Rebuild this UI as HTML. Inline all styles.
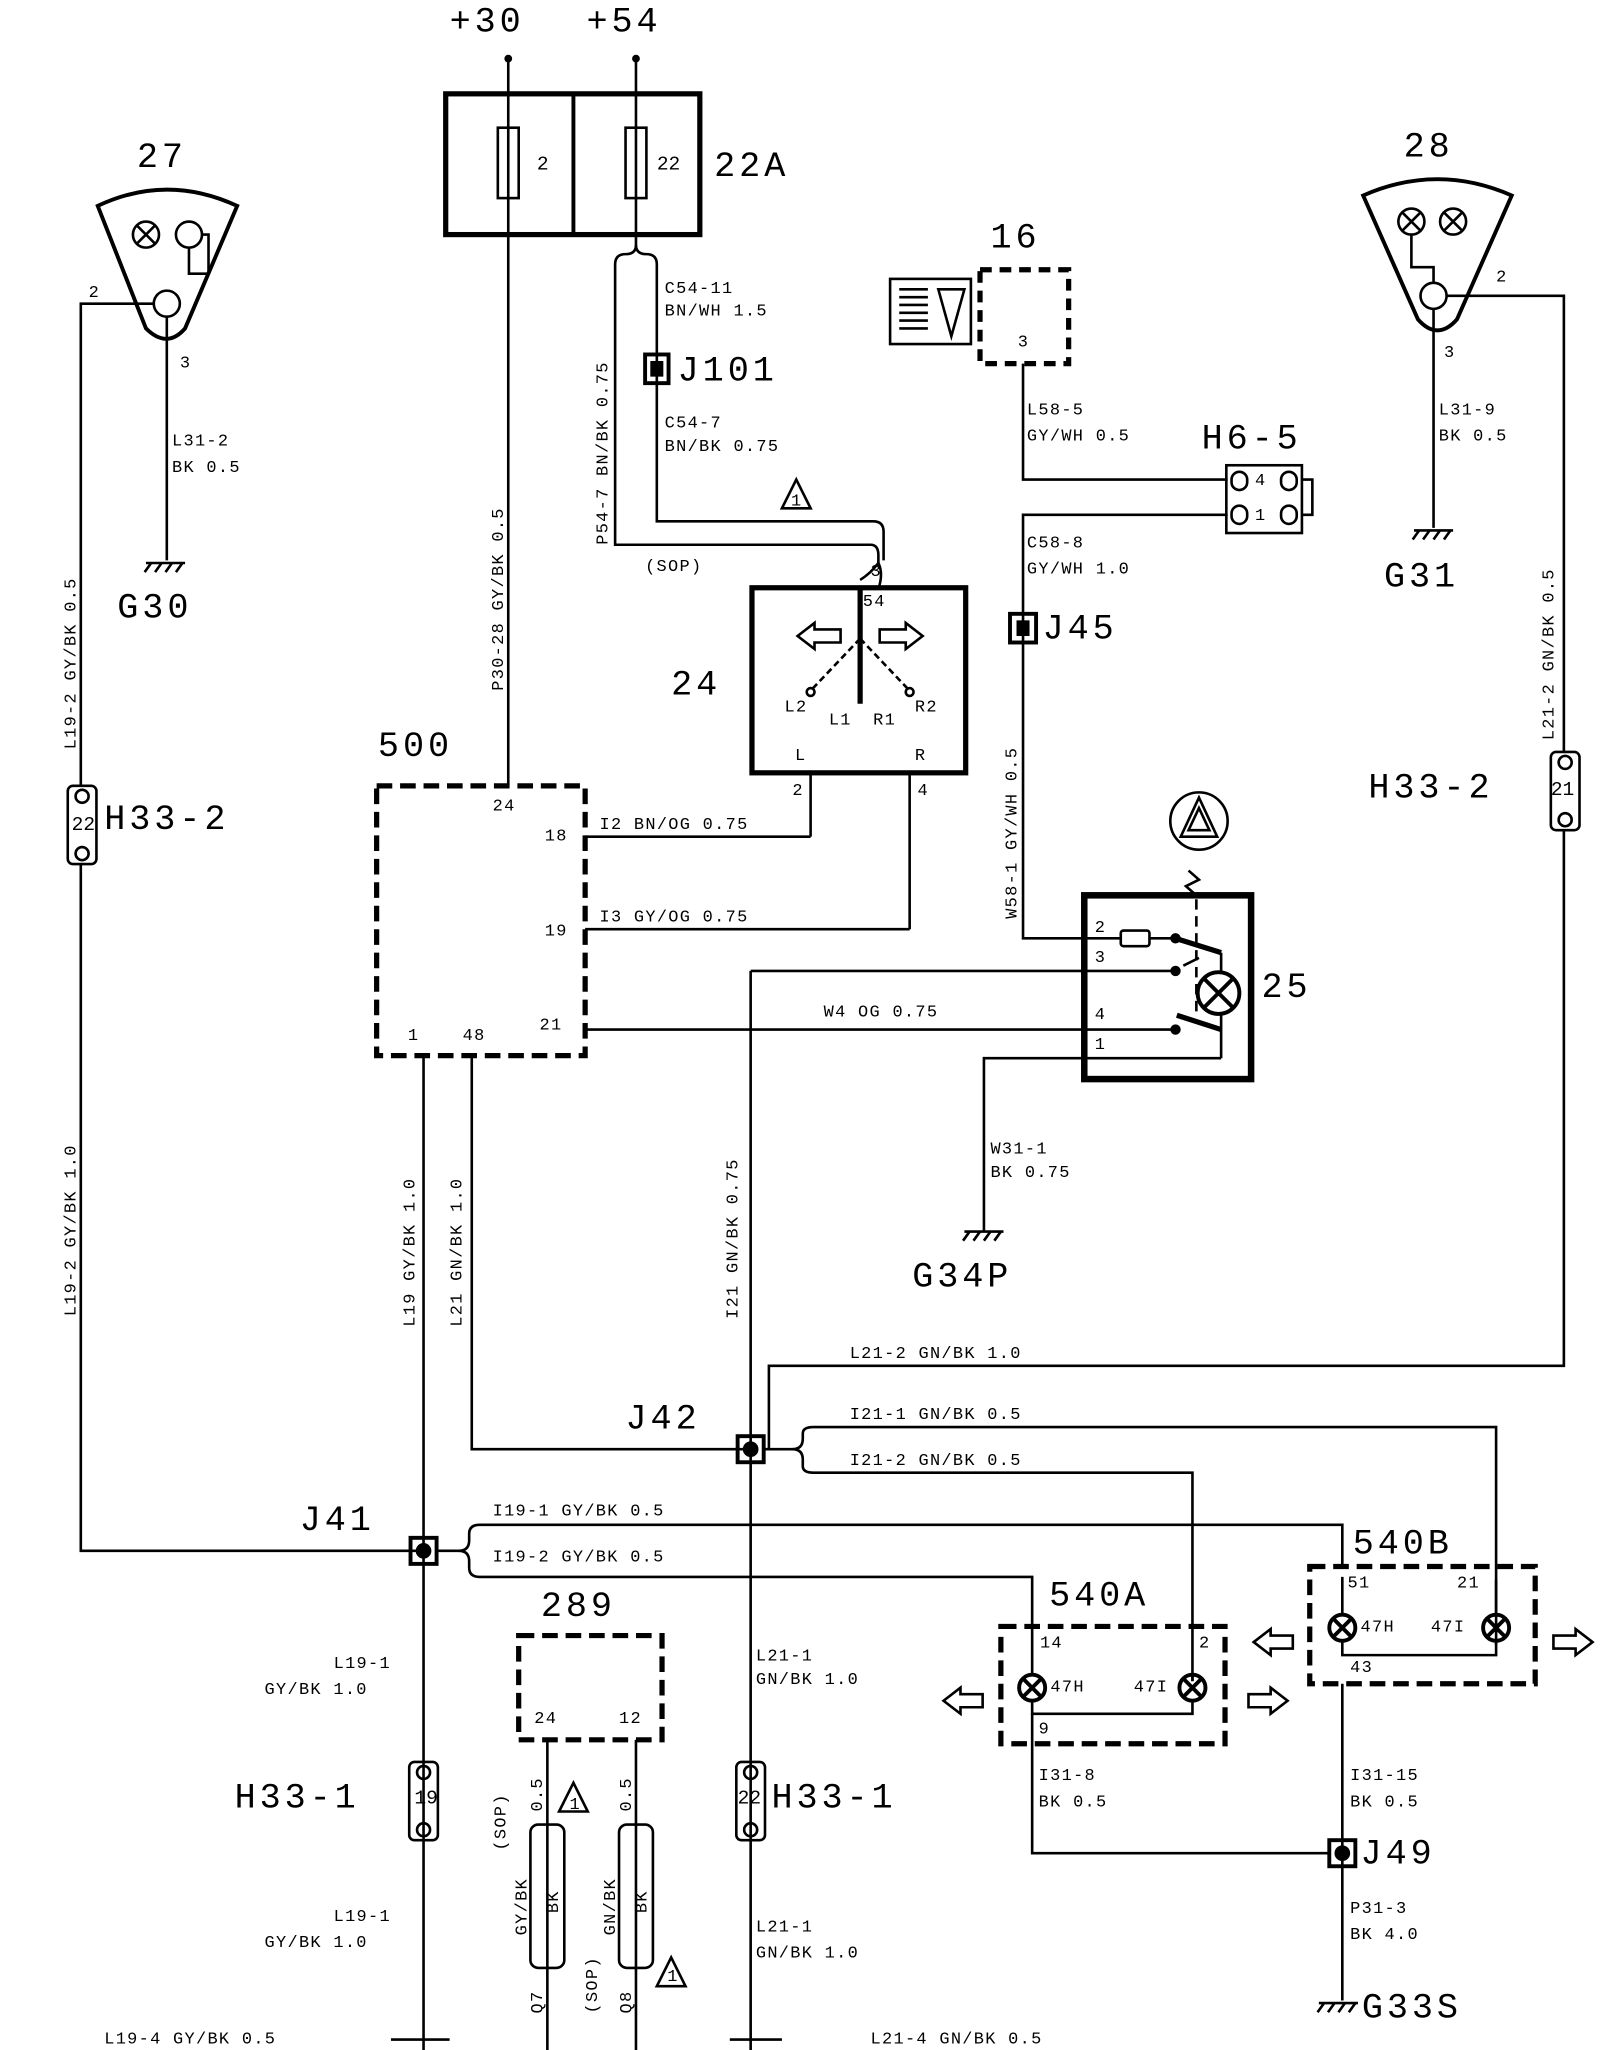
<!DOCTYPE html>
<html><head><meta charset="utf-8"><style>
html,body{margin:0;padding:0;background:#fff;width:1616px;height:2050px;overflow:hidden}
svg{display:block}
text{font-family:"Liberation Mono",monospace;fill:#000}
.s{font-size:13px;letter-spacing:1px}
.m{font-size:15px}
.b{font-size:27px;letter-spacing:3px}
</style></head><body>
<svg width="1616" height="2050" viewBox="0 0 1240 1573" preserveAspectRatio="none" xmlns="http://www.w3.org/2000/svg">
<g stroke="#000" stroke-width="2" fill="none">
<line x1="390" y1="45" x2="390" y2="72"/><circle cx="390" cy="45" r="2" fill="#000"/>
<line x1="488" y1="45" x2="488" y2="72"/><circle cx="488" cy="45" r="2" fill="#000"/>
<rect x="342" y="72" width="195" height="108" stroke-width="4"/>
<line x1="440" y1="72" x2="440" y2="180" stroke-width="3"/>
<rect x="382" y="98" width="16" height="54"/><line x1="390" y1="72" x2="390" y2="180"/>
<rect x="480" y="98" width="16" height="54"/><line x1="488" y1="72" x2="488" y2="180"/>
<line x1="390" y1="180" x2="390" y2="603"/>
<path d="M488 180 V188 Q488 195 480 195 Q472 195 472 203 V418 H668 Q674 418 674 426 V432"/>
<path d="M488 188 Q488 195 496 195 Q504 195 504 203 V400 H670 Q678 400 678 408 V430"/>
<path d="M674 432 Q668 440 660 445 M674 432 Q678 440 674 452"/>
<rect x="495" y="272" width="18" height="22" stroke-width="3"/><rect x="500" y="278" width="8" height="10" fill="#000"/>
<rect x="577" y="451" width="164" height="142" stroke-width="4"/>
<line x1="660" y1="451" x2="660" y2="540" stroke-width="4"/>
<path d="M660 490 L622 530 M660 490 L698 530" stroke-dasharray="5,3"/>
<circle cx="622" cy="531" r="3"/><circle cx="698" cy="531" r="3"/>
<path d="M612 488 L625 478 V483 H645 V493 H625 V498 Z"/>
<path d="M708 488 L695 478 V483 H675 V493 H695 V498 Z"/>
<line x1="622" y1="593" x2="622" y2="642"/>
<line x1="698" y1="593" x2="698" y2="713"/>
<line x1="449" y1="642" x2="622" y2="642"/>
<line x1="449" y1="713" x2="698" y2="713"/>
<line x1="449" y1="790" x2="905" y2="790"/>
<rect x="289" y="603" width="160" height="207" stroke-width="4" stroke-dasharray="12,6"/>
<line x1="325" y1="810" x2="325" y2="1573"/>
<path d="M362 810 V1112 H576"/>
<rect x="752" y="207" width="68" height="72" stroke-width="4" stroke-dasharray="9,6"/>
<rect x="683" y="214" width="62" height="50"/>
<g stroke-width="2"><line x1="690" y1="222" x2="712" y2="222"/><line x1="690" y1="228" x2="712" y2="228"/><line x1="690" y1="234" x2="712" y2="234"/><line x1="690" y1="240" x2="712" y2="240"/><line x1="690" y1="246" x2="712" y2="246"/><line x1="690" y1="252" x2="712" y2="252"/></g>
<path d="M720 222 H740 L730 258 Z"/>
<path d="M785 279 V368 H942"/>
<rect x="941" y="357" width="58" height="52"/>
<rect x="945" y="362" width="12" height="14" rx="6"/><rect x="983" y="362" width="12" height="14" rx="6"/>
<rect x="945" y="388" width="12" height="14" rx="6"/><rect x="983" y="388" width="12" height="14" rx="6"/>
<path d="M999 368 H1007 V395 H999"/>
<path d="M942 395 H785 V720 H860"/>
<rect x="775" y="471" width="20" height="22" stroke-width="3"/><rect x="781" y="477" width="8" height="10" fill="#000"/>
<rect x="832" y="687" width="128" height="141" stroke-width="5"/>
<rect x="860" y="714" width="22" height="12" rx="2"/>
<line x1="882" y1="720" x2="900" y2="720"/><circle cx="902" cy="720" r="3" fill="#000"/>
<line x1="902" y1="720" x2="937" y2="731" stroke-width="4"/>
<line x1="576" y1="745" x2="900" y2="745"/><circle cx="902" cy="745" r="3" fill="#000"/><line x1="908" y1="741" x2="920" y2="735"/>
<circle cx="935" cy="762" r="16" stroke-width="3"/>
<path d="M924 751 L946 773 M946 751 L924 773" stroke-width="3"/>
<line x1="937" y1="731" x2="937" y2="746"/><line x1="937" y1="778" x2="937" y2="812"/>
<circle cx="902" cy="790" r="3" fill="#000"/>
<line x1="903" y1="779" x2="937" y2="790" stroke-width="4"/>
<line x1="918" y1="690" x2="918" y2="780" stroke-dasharray="8,5"/>
<path d="M912 668 L920 675 L910 680 L918 687"/>
<circle cx="920" cy="630" r="22"/><path d="M920 612 L906 642 H934 Z"/><path d="M920 620 L912 637 H928 Z"/>
<path d="M937 812 H755 V945"/>
<path d="M740 945 H770 M744 945 L739 952 M752 945 L747 952 M760 945 L755 952 M768 945 L763 952"/>
<path d="M1046 150 Q1103 125 1160 150 L1118 245 Q1103 262 1088 245 Z" stroke-width="3"/>
<circle cx="1083" cy="170" r="10"/><path d="M1076 163 L1090 177 M1090 163 L1076 177"/>
<circle cx="1115" cy="170" r="10"/><path d="M1108 163 L1122 177 M1122 163 L1108 177"/>
<circle cx="1100" cy="227" r="10"/>
<path d="M1083 180 V205 H1100 V217"/>
<path d="M1110 227 H1200 V577"/>
<line x1="1100" y1="237" x2="1100" y2="405"/>
<path d="M1085 407 H1115 M1089 407 L1084 414 M1097 407 L1092 414 M1105 407 L1100 414 M1113 407 L1108 414"/>
<rect x="1190" y="577" width="22" height="60" rx="4"/>
<circle cx="1201" cy="585" r="5"/><circle cx="1201" cy="629" r="5"/>
<path d="M1200 637 V1048 H590 V1112"/>
<path d="M75 158 Q128 133 182 158 L142 252 Q128 268 112 252 Z" stroke-width="3"/>
<circle cx="112" cy="180" r="10"/><path d="M105 173 L119 187 M119 173 L105 187"/>
<circle cx="145" cy="180" r="10"/>
<circle cx="128" cy="233" r="10"/>
<path d="M145 190 V210 H160 V180 H155"/>
<path d="M118 233 H62 V603"/>
<line x1="128" y1="243" x2="128" y2="430"/>
<path d="M112 432 H142 M116 432 L111 439 M124 432 L119 439 M132 432 L127 439 M140 432 L135 439"/>
<rect x="52" y="603" width="22" height="60" rx="4"/>
<circle cx="63" cy="611" r="5"/><circle cx="63" cy="655" r="5"/>
<path d="M62 663 V1190 H325"/>
<line x1="576" y1="745" x2="576" y2="1573"/>
<rect x="566" y="1102" width="20" height="20" stroke-width="3"/><circle cx="576" cy="1112" r="5" fill="#000"/>
<rect x="315" y="1180" width="20" height="20" stroke-width="3"/><circle cx="325" cy="1190" r="5" fill="#000"/>
<path d="M586 1112 H608 Q616 1112 616 1104 V1100 Q616 1095 624 1095 H1148 V1262"/>
<path d="M608 1112 Q616 1112 616 1120 V1125 Q616 1130 624 1130 H915 V1290"/>
<path d="M335 1190 H352 Q360 1190 360 1182 V1177 Q360 1170 368 1170 H1030 V1202"/>
<path d="M352 1190 Q360 1190 360 1198 V1203 Q360 1210 368 1210 H792 V1250"/>
<rect x="1005" y="1202" width="173" height="90" stroke-width="4" stroke-dasharray="12,6"/>
<circle cx="1030" cy="1249" r="10" stroke-width="3"/><path d="M1023 1242 L1037 1256 M1037 1242 L1023 1256" stroke-width="3"/>
<circle cx="1148" cy="1249" r="10" stroke-width="3"/><path d="M1141 1242 L1155 1256 M1155 1242 L1141 1256" stroke-width="3"/>
<path d="M1030 1210 V1239 M1030 1259 V1270 H1148 V1259"/><line x1="1148" y1="1239" x2="1148" y2="1212"/>
<line x1="1030" y1="1292" x2="1030" y2="1535"/>
<path d="M962 1260 L975 1250 V1255 H992 V1265 H975 V1270 Z"/>
<path d="M1222 1260 L1209 1250 V1255 H1192 V1265 H1209 V1270 Z"/>
<rect x="768" y="1248" width="172" height="90" stroke-width="4" stroke-dasharray="12,6"/>
<circle cx="792" cy="1295" r="10" stroke-width="3"/><path d="M785 1288 L799 1302 M799 1288 L785 1302" stroke-width="3"/>
<circle cx="915" cy="1295" r="10" stroke-width="3"/><path d="M908 1288 L922 1302 M922 1288 L908 1302" stroke-width="3"/>
<path d="M792 1250 V1285 M792 1305 V1315 H915 V1305 M915 1285 V1290"/>
<path d="M792 1315 V1422 H1020"/>
<path d="M724 1305 L737 1295 V1300 H754 V1310 H737 V1315 Z"/>
<path d="M988 1305 L975 1295 V1300 H958 V1310 H975 V1315 Z"/>
<rect x="1020" y="1412" width="20" height="20" stroke-width="3"/><circle cx="1030" cy="1422" r="5" fill="#000"/>
<path d="M1012 1537 H1042 M1016 1537 L1011 1544 M1024 1537 L1019 1544 M1032 1537 L1027 1544 M1040 1537 L1035 1544"/>
<rect x="314" y="1352" width="22" height="60" rx="4"/><circle cx="325" cy="1360" r="5"/><circle cx="325" cy="1404" r="5"/>
<rect x="565" y="1352" width="22" height="60" rx="4"/><circle cx="576" cy="1360" r="5"/><circle cx="576" cy="1404" r="5"/>
<rect x="398" y="1255" width="110" height="80" stroke-width="4" stroke-dasharray="12,6"/>
<line x1="420" y1="1335" x2="420" y2="1573"/><line x1="488" y1="1335" x2="488" y2="1573"/>
<rect x="407" y="1400" width="26" height="110" rx="6"/><rect x="475" y="1400" width="26" height="110" rx="6"/>
<path d="M440 1368 L429 1390 H451 Z"/><path d="M515 1502 L504 1524 H526 Z"/><path d="M611 368 L600 390 H622 Z"/>
<line x1="300" y1="1565" x2="345" y2="1565"/><line x1="560" y1="1565" x2="600" y2="1565"/>
</g>
<text class="b" x="345" y="24">+30</text><text class="b" x="450" y="24">+54</text>
<text class="m" x="412" y="130">2</text><text class="m" x="504" y="130">22</text>
<text class="b" x="548" y="135">22A</text>
<text class="b" x="105" y="128">27</text><text class="b" x="1077" y="120">28</text>
<text class="s" x="68" y="228">2</text><text class="s" x="138" y="282">3</text>
<text class="s" x="1148" y="216">2</text><text class="s" x="1108" y="274">3</text>
<text class="s" x="132" y="342">L31-2</text><text class="s" x="132" y="362">BK 0.5</text>
<text class="s" x="1104" y="318">L31-9</text><text class="s" x="1104" y="338">BK 0.5</text>
<text class="b" x="90" y="474">G30</text><text class="b" x="1062" y="450">G31</text>
<text class="s" x="510" y="225">C54-11</text><text class="s" x="510" y="242">BN/WH 1.5</text>
<text class="b" x="520" y="292">J101</text>
<text class="s" x="510" y="328">C54-7</text><text class="s" x="510" y="346">BN/BK 0.75</text>
<text class="s" x="495" y="438">(SOP)</text>
<text class="s" x="668" y="442">3</text><text class="s" x="662" y="465">54</text>
<text class="s" x="602" y="546">L2</text><text class="s" x="636" y="556">L1</text><text class="s" x="670" y="556">R1</text><text class="s" x="702" y="546">R2</text>
<text class="s" x="610" y="583">L</text><text class="s" x="702" y="583">R</text>
<text class="s" x="608" y="610">2</text><text class="s" x="704" y="610">4</text>
<text class="b" x="515" y="533">24</text>
<text class="b" x="760" y="190">16</text><text class="s" x="781" y="266">3</text>
<text class="s" x="788" y="318">L58-5</text><text class="s" x="788" y="338">GY/WH 0.5</text>
<text class="b" x="922" y="344">H6-5</text>
<text class="s" x="963" y="372">4</text><text class="s" x="963" y="399">1</text>
<text class="s" x="788" y="420">C58-8</text><text class="s" x="788" y="440">GY/WH 1.0</text>
<text class="b" x="800" y="490">J45</text>
<text class="b" x="290" y="580">500</text>
<text class="s" x="378" y="622">24</text><text class="s" x="418" y="645">18</text><text class="s" x="418" y="718">19</text><text class="s" x="414" y="790">21</text>
<text class="s" x="313" y="798">1</text><text class="s" x="355" y="798">48</text>
<text class="s" x="460" y="636">I2 BN/OG 0.75</text>
<text class="s" x="460" y="707">I3 GY/OG 0.75</text>
<text class="s" x="632" y="780">W4  OG  0.75</text>
<text class="s" x="840" y="715">2</text><text class="s" x="840" y="738">3</text><text class="s" x="840" y="782">4</text><text class="s" x="840" y="805">1</text>
<text class="b" x="968" y="765">25</text>
<text class="s" x="760" y="885">W31-1</text><text class="s" x="760" y="903">BK 0.75</text>
<text class="b" x="700" y="987">G34P</text>
<text class="b" x="80" y="636">H33-2</text><text class="m" x="55" y="637">22</text>
<text class="b" x="1050" y="612">H33-2</text><text class="m" x="1190" y="610">21</text>
<text class="s" x="652" y="1042">L21-2 GN/BK 1.0</text>
<text class="b" x="480" y="1096">J42</text>
<text class="s" x="652" y="1089">I21-1 GN/BK 0.5</text>
<text class="s" x="652" y="1124">I21-2 GN/BK 0.5</text>
<text class="b" x="230" y="1174">J41</text>
<text class="s" x="378" y="1163">I19-1 GY/BK 0.5</text>
<text class="s" x="378" y="1198">I19-2 GY/BK 0.5</text>
<text class="b" x="1038" y="1192">540B</text><text class="b" x="805" y="1232">540A</text>
<text class="s" x="1034" y="1218">51</text><text class="s" x="1118" y="1218">21</text>
<text class="s" x="1044" y="1252">47H</text><text class="s" x="1098" y="1252">47I</text><text class="s" x="1036" y="1283">43</text>
<text class="s" x="798" y="1264">14</text><text class="s" x="920" y="1264">2</text>
<text class="s" x="806" y="1298">47H</text><text class="s" x="870" y="1298">47I</text><text class="s" x="797" y="1330">9</text>
<text class="s" x="797" y="1366">I31-8</text><text class="s" x="797" y="1386">BK  0.5</text>
<text class="s" x="1036" y="1366">I31-15</text><text class="s" x="1036" y="1386">BK  0.5</text>
<text class="b" x="1044" y="1430">J49</text>
<text class="s" x="1036" y="1468">P31-3</text><text class="s" x="1036" y="1488">BK  4.0</text>
<text class="b" x="1045" y="1548">G33S</text>
<text class="b" x="415" y="1240">289</text>
<text class="s" x="410" y="1322">24</text><text class="s" x="475" y="1322">12</text>
<text class="s" x="256" y="1280">L19-1</text><text class="s" x="203" y="1300">GY/BK 1.0</text>
<text class="s" x="580" y="1274">L21-1</text><text class="s" x="580" y="1292">GN/BK 1.0</text>
<text class="b" x="180" y="1387">H33-1</text><text class="m" x="318" y="1384">19</text>
<text class="b" x="592" y="1387">H33-1</text><text class="m" x="566" y="1384">22</text>
<text class="s" x="256" y="1474">L19-1</text><text class="s" x="203" y="1494">GY/BK 1.0</text>
<text class="s" x="580" y="1482">L21-1</text><text class="s" x="580" y="1502">GN/BK 1.0</text>
<text class="s" x="80" y="1568">L19-4 GY/BK 0.5</text><text class="s" x="668" y="1568">L21-4 GN/BK 0.5</text>
<g class="s">
<text transform="translate(466,418) rotate(-90)">P54-7 BN/BK 0.75</text>
<text transform="translate(386,530) rotate(-90)">P30-28 GY/BK 0.5</text>
<text transform="translate(58,575) rotate(-90)">L19-2 GY/BK 0.5</text>
<text transform="translate(58,1010) rotate(-90)">L19-2 GY/BK 1.0</text>
<text transform="translate(1192,568) rotate(-90)">L21-2 GN/BK 0.5</text>
<text transform="translate(780,705) rotate(-90)">W58-1 GY/WH 0.5</text>
<text transform="translate(566,1012) rotate(-90)">I21 GN/BK 0.75</text>
<text transform="translate(318,1018) rotate(-90)">L19  GY/BK 1.0</text>
<text transform="translate(354,1018) rotate(-90)">L21  GN/BK 1.0</text>
<text transform="translate(388,1420) rotate(-90)">(SOP)</text>
<text transform="translate(416,1390) rotate(-90)">0.5</text>
<text transform="translate(484,1390) rotate(-90)">0.5</text>
<text transform="translate(404,1485) rotate(-90)">GY/BK</text>
<text transform="translate(428,1468) rotate(-90)">BK</text>
<text transform="translate(472,1485) rotate(-90)">GN/BK</text>
<text transform="translate(496,1468) rotate(-90)">BK</text>
<text transform="translate(416,1545) rotate(-90)">Q7</text>
<text transform="translate(458,1545) rotate(-90)">(SOP)</text>
<text transform="translate(484,1545) rotate(-90)">Q8</text>
</g>
<text class="s" x="607" y="388" font-size="11">1</text>
<text class="s" x="437" y="1388" font-size="11">1</text>
<text class="s" x="512" y="1520" font-size="11">1</text>
</svg>
</body></html>
